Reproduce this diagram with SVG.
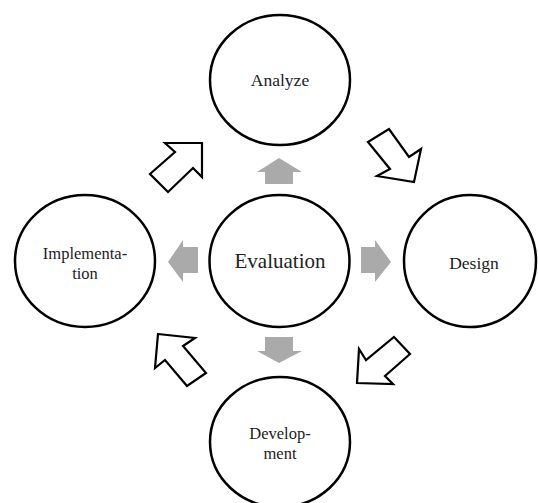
<svg xmlns="http://www.w3.org/2000/svg" width="538" height="503" viewBox="0 0 538 503">
<style>
.c{fill:#fff;stroke:#000;stroke-width:2.5}
.t{font-family:"Liberation Serif","Times New Roman",serif;font-size:17.5px;fill:#222;text-anchor:middle}
.s{font-size:16.5px}
.big{font-size:21px}
.g{fill:#aaa;stroke:none}
.o{fill:#fff;stroke:#000;stroke-width:2.2;stroke-linejoin:miter}
</style>
<rect width="538" height="503" fill="#fff"/>
<g id="connectors">
<polygon class="g" points="279,158 302,172 293,172 293,184 265,184 265,172 257,172"/>
<polygon class="g" points="279,363 302,351 293,351 293,337 265,337 265,351 257,351"/>
<polygon class="g" points="168,262 183,240 183,247 198,247 198,273 183,273 183,282"/>
<polygon class="g" points="391,262 375,240 375,247 361,247 361,273 375,273 375,282"/>
<polygon class="o" points="165,143 202,143 202,177 193,168 168,192 150,174 175,152"/>
<polygon class="o" points="368,142 389,129 409,157 421,149 414,182 377,176 390,169"/>
<polygon class="o" points="394,337 410,354 385,376 393,384 357,383 359,349 366,360"/>
<polygon class="o" points="158,334 195,338 183,346 206,373 187,386 165,360 155,368"/>
</g>
<g id="analyze"><ellipse class="c" cx="280" cy="80" rx="70" ry="65"/><text class="t" x="280" y="86">Analyze</text></g>
<g id="evaluation"><ellipse class="c" cx="279.5" cy="261" rx="70" ry="66"/><text class="t big" x="280" y="268">Evaluation</text></g>
<g id="design"><ellipse class="c" cx="470" cy="261" rx="66" ry="66"/><text class="t" x="474" y="269">Design</text></g>
<g id="implementation"><ellipse class="c" cx="85" cy="261" rx="70" ry="66"/><text class="t s" x="85" y="259">Implementa-</text><text class="t s" x="85" y="278.5">tion</text></g>
<g id="development"><ellipse class="c" cx="280" cy="442" rx="70" ry="65"/><text class="t s" x="280" y="439">Develop-</text><text class="t s" x="280" y="458.5">ment</text></g>
</svg>
